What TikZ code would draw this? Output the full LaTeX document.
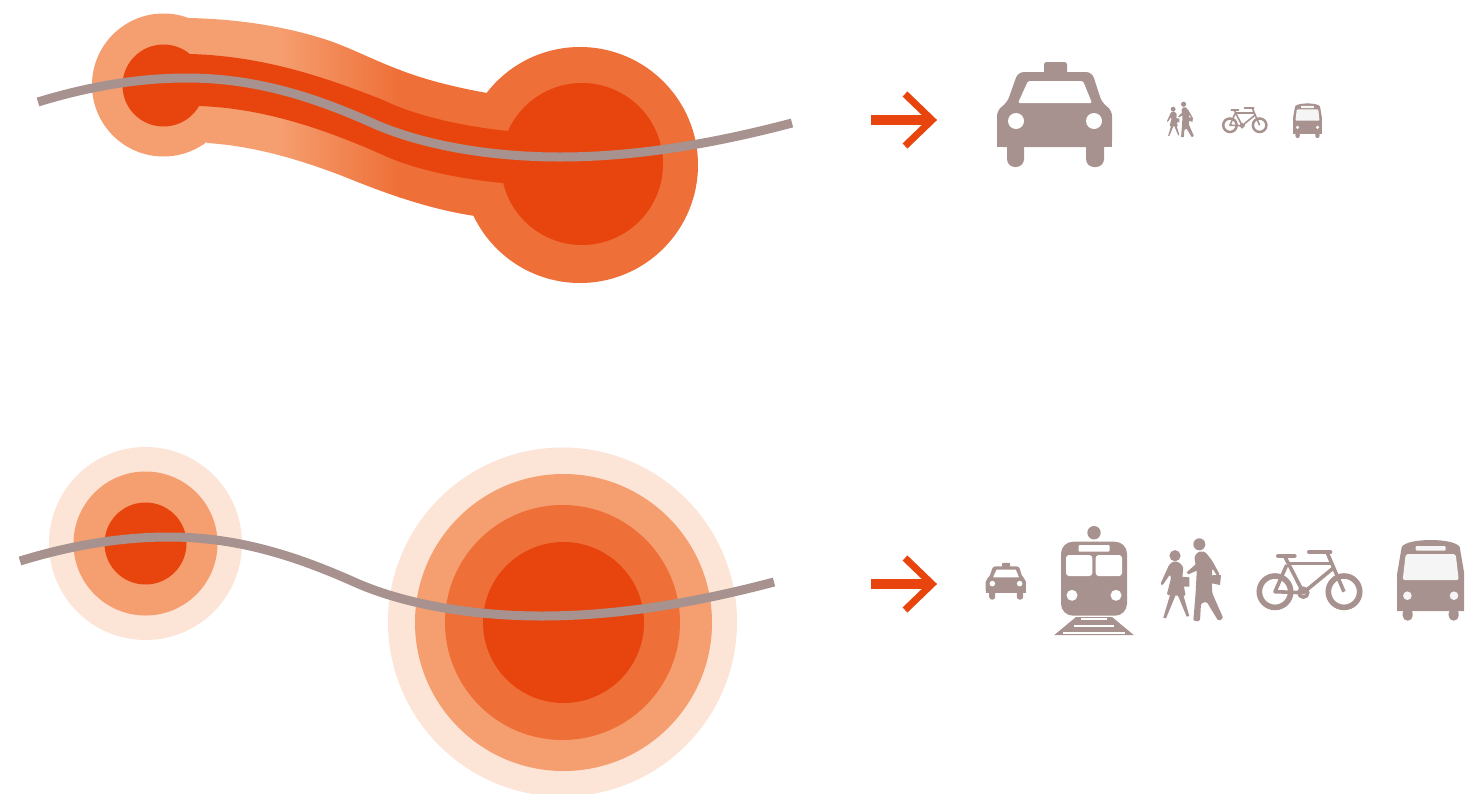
\documentclass[tikz,border=0pt]{standalone}
\usepackage{tikz}
\definecolor{palering}{HTML}{FCE4D6}
\definecolor{lightring}{HTML}{F59E6F}
\definecolor{midring}{HTML}{EE6F37}
\definecolor{corered}{HTML}{E8450E}
\definecolor{roadgrey}{HTML}{A7928F}
\definecolor{glassgrey}{HTML}{F5F5F5}

\tikzset{
	roadline/.style={draw=roadgrey, line width=9pt},
	iconfill/.style={fill=roadgrey},
	pics/road/.style={code={
		\draw[roadline] (38,102) .. controls (90,86) and (140,78) .. (187,78) .. controls (260,78) and (320,100) .. (370,122) .. controls (420,145) and (490,157) .. (560,157) .. controls (640,157) and (720,142) .. (792,123);
	}},
	pics/gopointer/.style={code={
		\draw[corered, line width=10pt] (-61,0) -- (-5,0);
		\draw[corered, line width=7pt, miter limit=4] (-27,-26) -- (0,0) -- (-27,26);
	}},
	pics/taxi/.default=1,
	pics/taxi/.style={code={
		\fill[iconfill, rounded corners=2.5pt*#1] (-11,-53) rectangle (12,-40);
		\fill[iconfill, rounded corners=6pt*#1] (-37,-43) -- (37,-43) -- (47,-12) -- (57,-5) -- (57,32) -- (-58,32) -- (-58,-5) -- (-48,-12) -- cycle;
		\fill[iconfill] (-58,10) rectangle (57,32);
		\fill[iconfill, rounded corners=8pt*#1] (-48,25) -- (-48,52) -- (-31,52) -- (-31,25) -- cycle;
		\fill[iconfill, rounded corners=8pt*#1] (31,25) -- (31,52) -- (49,52) -- (49,25) -- cycle;
		\fill[white, rounded corners=1.5pt*#1] (-37,-12) -- (-27,-34) -- (28,-34) -- (37,-12) -- cycle;
		\foreach \x in {-39,39} { \fill[white] (\x,6) circle (8); }
	}},
	pics/train/.style={code={
		\fill[iconfill] (0,-47.3) circle (6.7);
		\fill[iconfill, rounded corners=12pt] (-33,-38.3) rectangle (33,35.7);
		\fill[white, rounded corners=1pt] (-15.5,-35) rectangle (15.5,-28.3);
		\fill[white, rounded corners=3pt] (-28,-25) rectangle (-1.7,-4);
		\fill[white, rounded corners=3pt] (1.7,-25) rectangle (28,-4);
		\foreach \x in {-22,22} { \fill[white] (\x,15.3) circle (5.5); }
		\fill[iconfill] (-18,37) -- (18,37) -- (39.7,55) -- (-39.7,55) -- cycle;
		\fill[white] (-13,38.2) rectangle (13,40.2);
		\fill[white] (-20,44.7) rectangle (20,47);
		\fill[white] (-31,51.5) rectangle (31,53.5);
	}},
	pics/walkers/.default=1,
	pics/walkers/.style={code={
		\fill[iconfill] (-15,-24.3) circle (5.6);
		\fill[iconfill] (9.3,-35.7) circle (6);
		\fill[iconfill, rounded corners=1.5pt*#1] (-17.7,-18.3) -- (-21,-15) -- (-29.7,4.3) -- (-27.7,5.7) -- (-20,-5.7) -- (-19,-1.7) -- (-23.3,15) -- (-4.3,16) -- (-7.7,-1.7) -- (-6.7,-13.3) -- (-11.7,-18.3) -- cycle;
		\fill[iconfill] (-20,15) -- (-26.7,37.7) -- (-24,38.3) -- (-14.3,15) -- cycle;
		\fill[iconfill] (-12.3,15) -- (-3.3,36.7) -- (-0.7,36) -- (-6.7,15) -- cycle;
		\fill[iconfill] (-9,-3.3) -- (-0.7,-2.7) -- (-0.7,6.7) -- (-8.3,6.7) -- cycle;
		\fill[iconfill] (6.7,-16.7) -- (-3.3,-7.7) -- (-1.7,-5.7) -- (8.3,-10) -- cycle;
		\fill[iconfill, rounded corners=1.5pt*#1] (4.3,-23.3) -- (8.3,-28.3) -- (15,-28.3) -- (21.7,-20) -- (30,-5) -- (27.7,-3.3) -- (22.3,-11.7) -- (21.7,1.7) -- (22.3,13.3) -- (33.3,38.3) -- (28.3,41) -- (16.7,21.7) -- (11,23.3) -- (10,41) -- (3.3,41) -- (5.7,11.7) -- (6.7,-8.3) -- cycle;
		\fill[iconfill] (22.3,-5) -- (31,-5) -- (30,5) -- (21.7,3.3) -- cycle;
	}},
	pics/bike/.style={code={
		\foreach \x in {-35,34} { \draw[roadgrey, line width=1.25*\pgflinewidth] (\x,1.7) circle (15.7); }
		\draw[roadgrey] (-6.7,2.7) circle (4.4);
		\draw[roadgrey, line cap=round, line width=1.15*\pgflinewidth] (-31.7,-34) -- (-15.7,-34);
		\draw[roadgrey, line cap=round, line width=1.15*\pgflinewidth] (-0.7,-38) -- (20,-38);
		\draw[roadgrey, line join=round] (-25,-33) -- (-21.7,-26.7) -- (-6.7,2.7) -- (-35,1.7) -- (-23.3,-25);
		\draw[roadgrey] (-21.7,-26.7) -- (21.8,-26.7);
		\draw[roadgrey] (23,-21.7) -- (-6.7,2.7);
		\draw[roadgrey] (17.3,-37) -- (34,1.7);
	}},
	pics/bus/.default=1,
	pics/bus/.style={code={
		\fill[iconfill] (-33.5,31) -- (-33.5,-6.7) -- (-29,-33) .. controls (-26,-38) and (-12,-40) .. (0,-40) .. controls (12,-40) and (26,-38) .. (29,-33) -- (33.5,-6.7) -- (33.5,31) -- cycle;
		\foreach \x in {-23,23} { \fill[iconfill, rounded corners=5pt*#1] (\x-5,28) rectangle (\x+5,40.7); }
		\fill[glassgrey, rounded corners=2pt*#1] (-25,-26) -- (25,-26) -- (28,0) -- (-28,0) -- cycle;
		\fill[glassgrey, rounded corners=1pt*#1] (-15,-34) rectangle (15,-29.3);
		\foreach \x in {-23.3,23.3} { \fill[glassgrey] (\x,15.7) circle (4.3); }
	}}
}

\begin{document}
\begin{tikzpicture}[x=1pt,y=-1pt]
	\useasboundingbox (0,0) rectangle (1484,793);
	\clip (0,0) rectangle (1484,793);
	\fill[lightring] (163.5,85) circle (71.5);
	\fill[midring] (580,165) circle (118);
	\begin{scope}
		\clip (188,18) .. controls (240,19) and (290,27) .. (333,42) .. controls (360,52) and (385,66) .. (420,77) .. controls (442,84) and (465,89) .. (487,93) -- (475,216) .. controls (420,208) and (365,185) .. (340,175) .. controls (300,160) and (255,146) .. (207,143) -- cycle;
		\fill[lightring] (170,0) rectangle (281,250);
		\shade[left color=lightring, right color=midring] (280,0) rectangle (400,250);
		\fill[midring] (399,0) rectangle (500,250);
	\end{scope}
	\fill[corered] (190,54) .. controls (260,56) and (320,75) .. (383,100) .. controls (420,118) and (470,127) .. (508,131) -- (503,183) .. controls (470,180) and (420,172) .. (383,155) .. controls (320,127) and (260,108) .. (199,106) -- cycle;
	\fill[corered] (163.5,85.5) circle (41);
	\fill[corered] (582,164) circle (81);
	\pic at (0,0) {road};
	\pic at (932,120) {gopointer};
	\pic at (1055,115) {taxi};
	\pic[scale=0.43] at (1179.6,119.6) {walkers=0.43};
	\pic[scale=0.43, line width=1.6pt] at (1245,124.5) {bike};
	\pic[scale=0.43] at (1307.5,120.6) {bus=0.43};

	\fill[palering] (145.5,543.5) circle (96.5);
	\fill[lightring] (145.5,543.5) circle (72);
	\fill[corered] (145.5,543.5) circle (41);
	\fill[palering] (562.5,622) circle (174.5);
	\fill[lightring] (563.5,622.5) circle (148.5);
	\fill[midring] (562.5,622.5) circle (117.5);
	\fill[corered] (563.5,622.5) circle (80.5);
	\pic at (-18,459) {road};
	\pic at (932,584) {gopointer};
	\pic[scale=0.35] at (1006,581.5) {taxi=0.35};
	\pic at (1094,580) {train};
	\pic at (1190,580) {walkers};
	\pic[line width=3.6pt] at (1310,590) {bike};
	\pic at (1430.7,580) {bus};
\end{tikzpicture}
\end{document}
